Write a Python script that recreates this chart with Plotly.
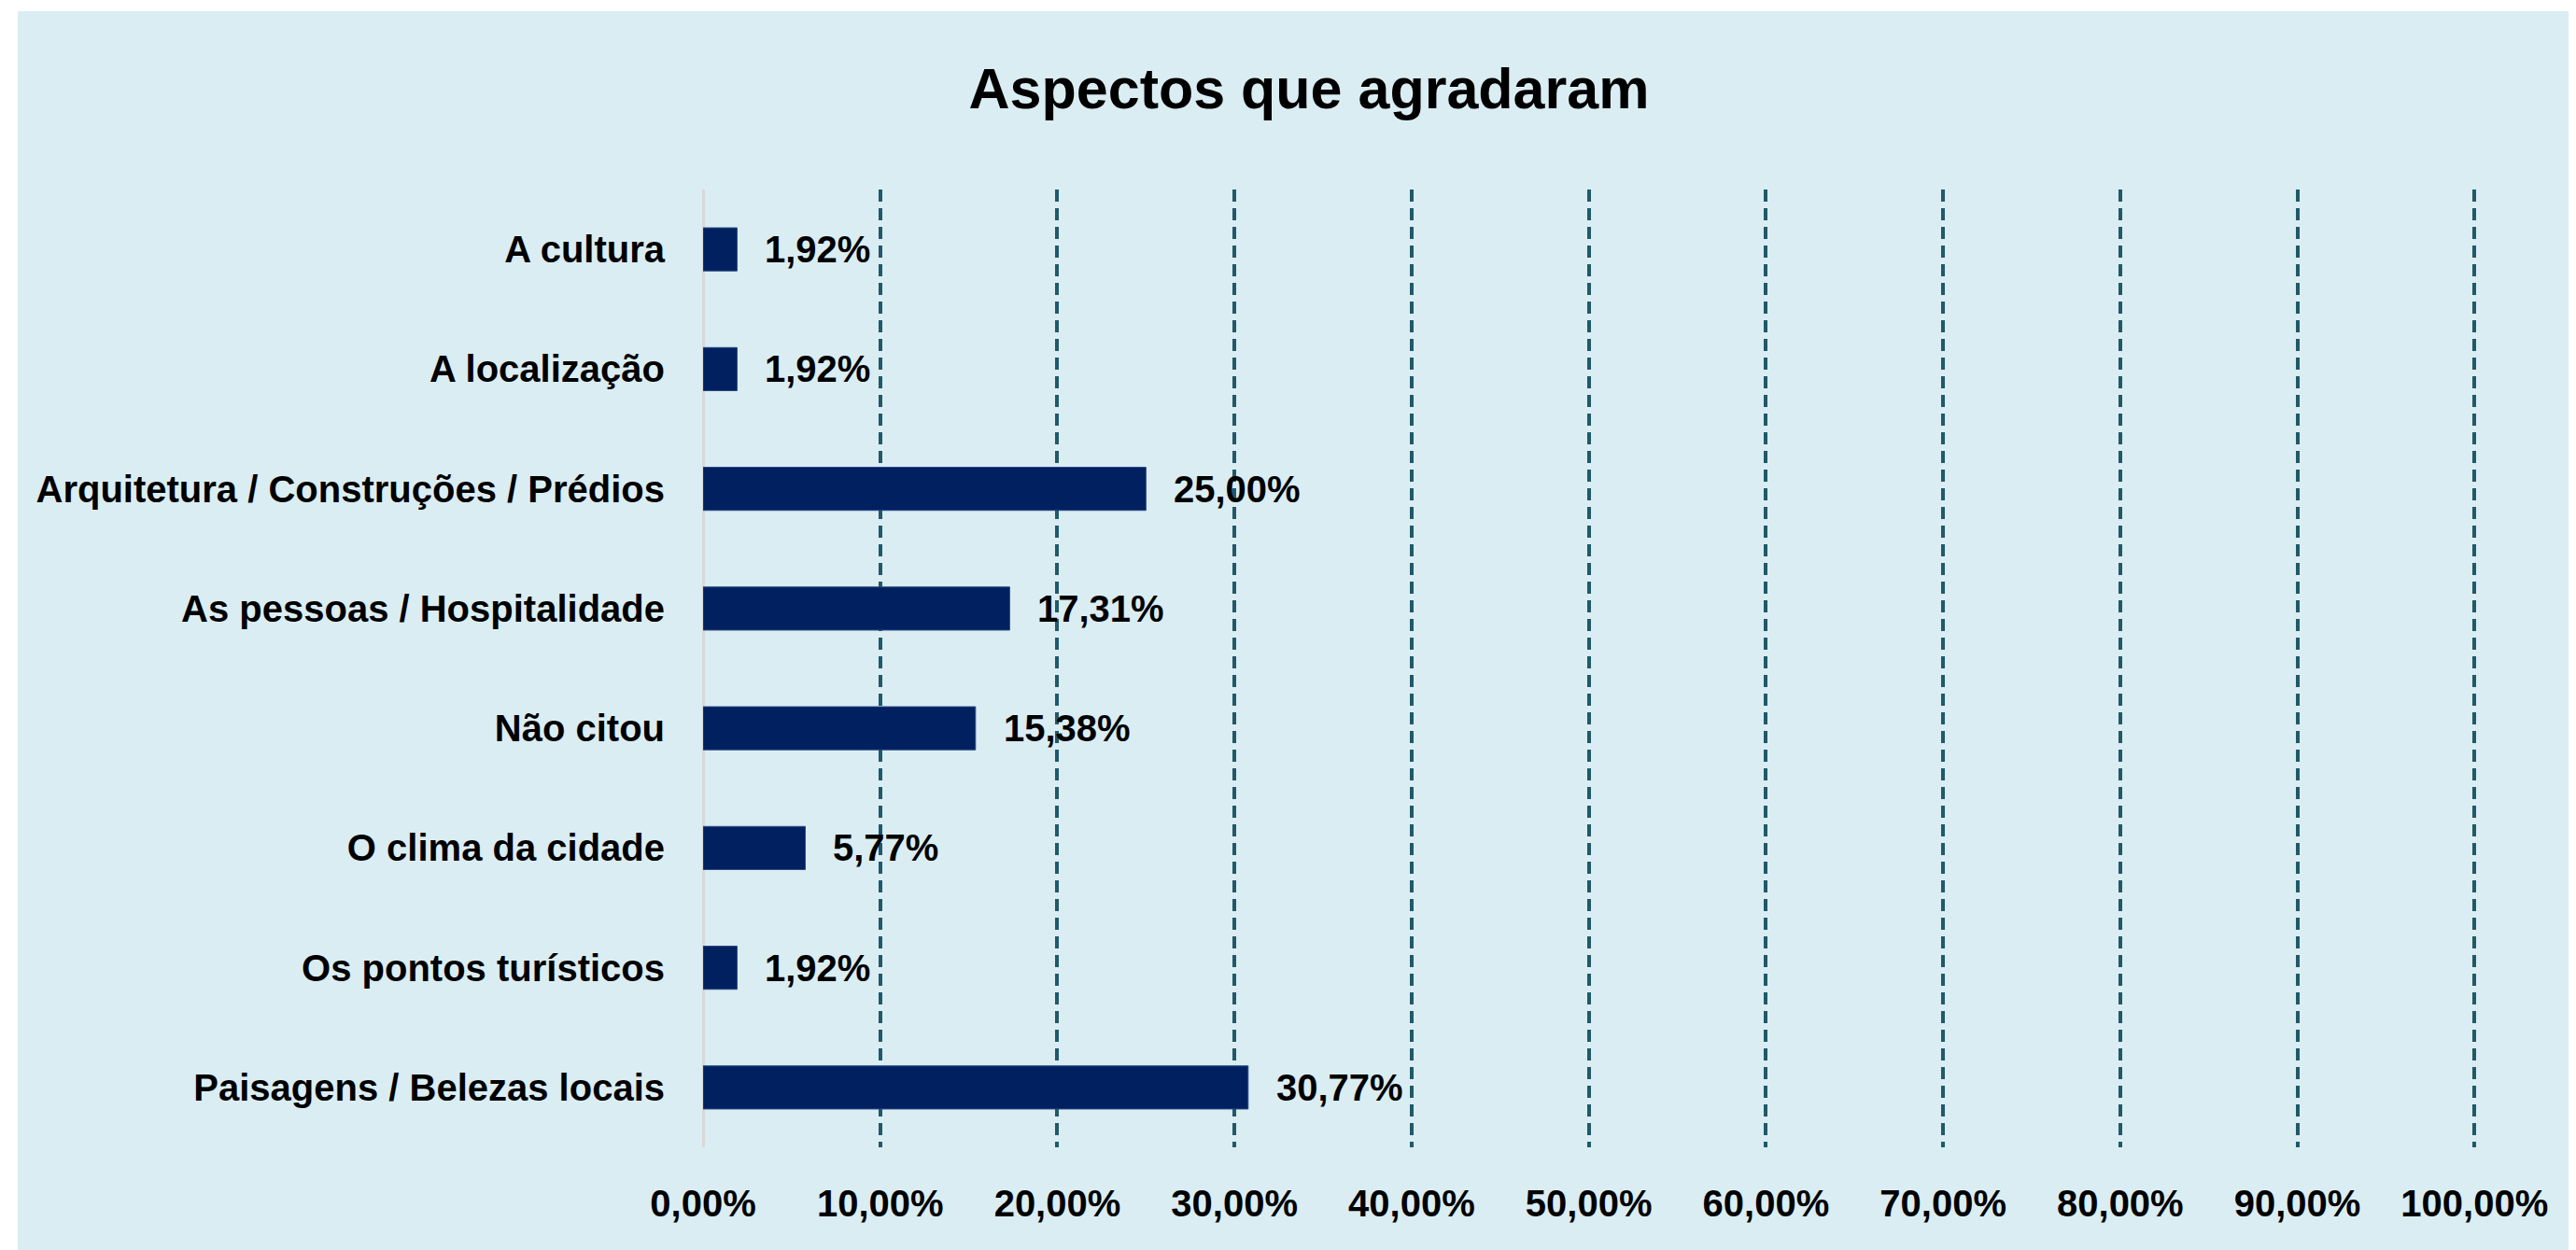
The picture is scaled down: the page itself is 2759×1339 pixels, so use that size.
import plotly.graph_objects as go

categories = [
    "A cultura",
    "A localização",
    "Arquitetura / Construções / Prédios",
    "As pessoas / Hospitalidade",
    "Não citou",
    "O clima da cidade",
    "Os pontos turísticos",
    "Paisagens / Belezas locais",
]
values = [1.92, 1.92, 25.00, 17.31, 15.38, 5.77, 1.92, 30.77]
tick_values = [0, 10, 20, 30, 40, 50, 60, 70, 80, 90, 100]
tick_labels = ["0,00%", "10,00%", "20,00%", "30,00%", "40,00%", "50,00%",
               "60,00%", "70,00%", "80,00%", "90,00%", "100,00%"]
title_text = "Aspectos que agradaram"

FONT = "Liberation Sans, Arial, sans-serif"
OFF = 8  # page body margin
W, H = 2759 - OFF, 1339 - OFF
XMAX = 100.3
L, T, B = 753 - OFF, 203 - OFF, 110
plot_w_100 = 2650 - 753
R = W - L - round(plot_w_100 * XMAX / 100)

fig = go.Figure()
fig.add_trace(go.Bar(
    x=values, y=categories, orientation="h",
    marker=dict(color="#002060", line=dict(color="#2a4a80", width=1)),
    hoverinfo="skip",
))

for c, v in zip(categories, values):
    fig.add_annotation(
        x=v, y=c, xref="x", yref="y",
        text="<b>" + f"{v:.2f}".replace(".", ",") + "%</b>",
        showarrow=False, xanchor="left", yanchor="middle", xshift=28,
        font=dict(family=FONT, size=40, color="#000000"),
    )

pw = W - L - R
ph = H - T - B
fig.add_shape(
    type="rect", xref="paper", yref="paper", layer="below",
    x0=(19 - OFF - L) / pw, x1=(W + 5 - L) / pw,
    y0=(H - B - (H + 5)) / ph, y1=(H - B - (12 - OFF)) / ph,
    fillcolor="#DAEDF3", line=dict(width=0),
)

fig.update_layout(
    width=W, height=H,
    margin=dict(l=L, r=R, t=T, b=B, pad=0, autoexpand=False),
    paper_bgcolor="#FFFFFF",
    plot_bgcolor="rgba(0,0,0,0)",
    showlegend=False,
    bargap=0.64,
    title=dict(
        text="<b>" + title_text + "</b>",
        x=(1402 - OFF) / W, xanchor="center", xref="container",
        y=1 - (95 - OFF) / H, yanchor="middle", yref="container",
        font=dict(family=FONT, size=61, color="#000000"),
        automargin=False,
    ),
    xaxis=dict(
        range=[0, XMAX], tickvals=tick_values, ticktext=["<b>" + t + "</b>" for t in tick_labels],
        showgrid=True, gridcolor="#215968", gridwidth=4, griddash="13px,7px",
        zeroline=True, zerolinecolor="#D9D9D9", zerolinewidth=3,
        showline=False, ticks="", ticklabelstandoff=33, tickangle=0,
        tickfont=dict(family=FONT, size=40, color="#000000"),
        automargin=False, fixedrange=True,
    ),
    yaxis=dict(
        autorange="reversed", showgrid=False, zeroline=False, showline=False,
        ticks="", ticklabelstandoff=40,
        tickvals=categories, ticktext=["<b>" + c + "</b>" for c in categories],
        tickfont=dict(family=FONT, size=40, color="#000000"),
        automargin=False, fixedrange=True,
    ),
)

fig.write_html("out.html")
